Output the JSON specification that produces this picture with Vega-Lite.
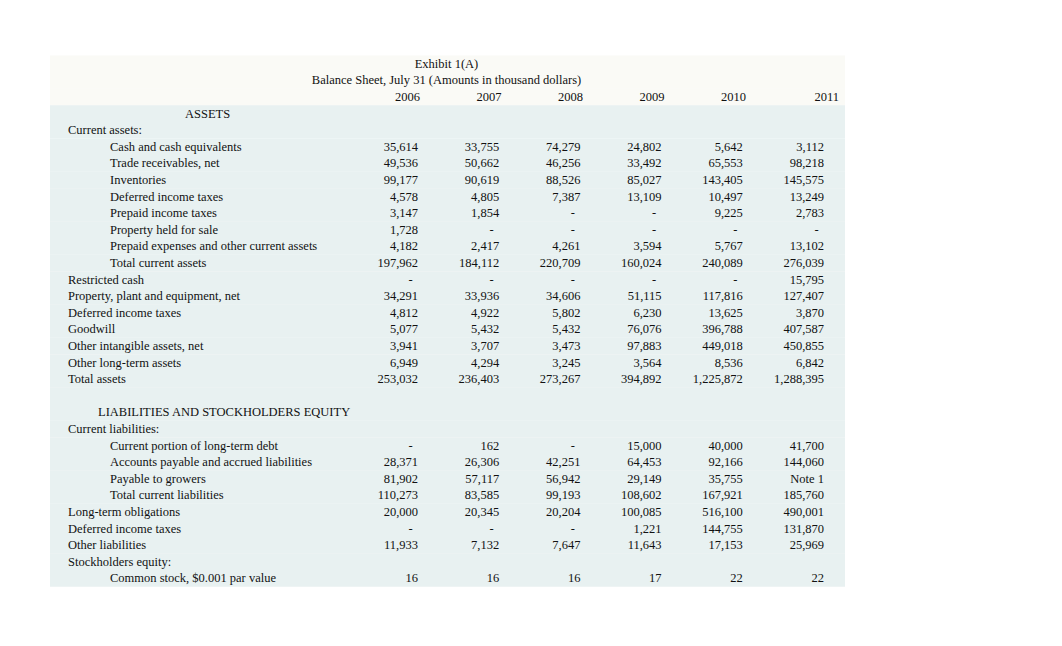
{
  "$schema": "https://vega.github.io/schema/vega-lite/v6.json",
  "width": 1062,
  "height": 646,
  "padding": 0,
  "autosize": {"type": "fit", "contains": "padding"},
  "background": "#ffffff",
  "config": {"view": {"stroke": null}},
  "datasets": {
    "rows": [
      {"line": 0, "role": "title", "title": "Exhibit 1(A)"},
      {"line": 1, "role": "title", "title": "Balance Sheet, July 31 (Amounts in thousand dollars)"},
      {"line": 2, "role": "header"},
      {"line": 3, "label": "ASSETS", "indent": 3},
      {"line": 4, "label": "Current assets:", "indent": 0},
      {"line": 5, "label": "Cash and cash equivalents", "indent": 2, "2006": "35,614", "2007": "33,755", "2008": "74,279", "2009": "24,802", "2010": "5,642", "2011": "3,112"},
      {"line": 6, "label": "Trade receivables, net", "indent": 2, "2006": "49,536", "2007": "50,662", "2008": "46,256", "2009": "33,492", "2010": "65,553", "2011": "98,218"},
      {"line": 7, "label": "Inventories", "indent": 2, "2006": "99,177", "2007": "90,619", "2008": "88,526", "2009": "85,027", "2010": "143,405", "2011": "145,575"},
      {"line": 8, "label": "Deferred income taxes", "indent": 2, "2006": "4,578", "2007": "4,805", "2008": "7,387", "2009": "13,109", "2010": "10,497", "2011": "13,249"},
      {"line": 9, "label": "Prepaid income taxes", "indent": 2, "2006": "3,147", "2007": "1,854", "2008": "-", "2009": "-", "2010": "9,225", "2011": "2,783"},
      {"line": 10, "label": "Property held for sale", "indent": 2, "2006": "1,728", "2007": "-", "2008": "-", "2009": "-", "2010": "-", "2011": "-"},
      {"line": 11, "label": "Prepaid expenses and other current assets", "indent": 2, "2006": "4,182", "2007": "2,417", "2008": "4,261", "2009": "3,594", "2010": "5,767", "2011": "13,102"},
      {"line": 12, "label": "Total current assets", "indent": 2, "2006": "197,962", "2007": "184,112", "2008": "220,709", "2009": "160,024", "2010": "240,089", "2011": "276,039"},
      {"line": 13, "label": "Restricted cash", "indent": 0, "2006": "-", "2007": "-", "2008": "-", "2009": "-", "2010": "-", "2011": "15,795"},
      {"line": 14, "label": "Property, plant and equipment, net", "indent": 0, "2006": "34,291", "2007": "33,936", "2008": "34,606", "2009": "51,115", "2010": "117,816", "2011": "127,407"},
      {"line": 15, "label": "Deferred income taxes", "indent": 0, "2006": "4,812", "2007": "4,922", "2008": "5,802", "2009": "6,230", "2010": "13,625", "2011": "3,870"},
      {"line": 16, "label": "Goodwill", "indent": 0, "2006": "5,077", "2007": "5,432", "2008": "5,432", "2009": "76,076", "2010": "396,788", "2011": "407,587"},
      {"line": 17, "label": "Other intangible assets, net", "indent": 0, "2006": "3,941", "2007": "3,707", "2008": "3,473", "2009": "97,883", "2010": "449,018", "2011": "450,855"},
      {"line": 18, "label": "Other long-term assets", "indent": 0, "2006": "6,949", "2007": "4,294", "2008": "3,245", "2009": "3,564", "2010": "8,536", "2011": "6,842"},
      {"line": 19, "label": "Total assets", "indent": 0, "2006": "253,032", "2007": "236,403", "2008": "273,267", "2009": "394,892", "2010": "1,225,872", "2011": "1,288,395"},
      {"line": 20},
      {"line": 21, "label": "LIABILITIES AND STOCKHOLDERS EQUITY", "indent": 1},
      {"line": 22, "label": "Current liabilities:", "indent": 0},
      {"line": 23, "label": "Current portion of long-term debt", "indent": 2, "2006": "-", "2007": "162", "2008": "-", "2009": "15,000", "2010": "40,000", "2011": "41,700"},
      {"line": 24, "label": "Accounts payable and accrued liabilities", "indent": 2, "2006": "28,371", "2007": "26,306", "2008": "42,251", "2009": "64,453", "2010": "92,166", "2011": "144,060"},
      {"line": 25, "label": "Payable to growers", "indent": 2, "2006": "81,902", "2007": "57,117", "2008": "56,942", "2009": "29,149", "2010": "35,755", "2011": "Note 1"},
      {"line": 26, "label": "Total current liabilities", "indent": 2, "2006": "110,273", "2007": "83,585", "2008": "99,193", "2009": "108,602", "2010": "167,921", "2011": "185,760"},
      {"line": 27, "label": "Long-term obligations", "indent": 0, "2006": "20,000", "2007": "20,345", "2008": "20,204", "2009": "100,085", "2010": "516,100", "2011": "490,001"},
      {"line": 28, "label": "Deferred income taxes", "indent": 0, "2006": "-", "2007": "-", "2008": "-", "2009": "1,221", "2010": "144,755", "2011": "131,870"},
      {"line": 29, "label": "Other liabilities", "indent": 0, "2006": "11,933", "2007": "7,132", "2008": "7,647", "2009": "11,643", "2010": "17,153", "2011": "25,969"},
      {"line": 30, "label": "Stockholders equity:", "indent": 0},
      {"line": 31, "label": "Common stock, $0.001 par value", "indent": 2, "2006": "16", "2007": "16", "2008": "16", "2009": "17", "2010": "22", "2011": "22"}
    ],
    "years": [
      {"year": 2006, "line": 2},
      {"year": 2007, "line": 2},
      {"year": 2008, "line": 2},
      {"year": 2009, "line": 2},
      {"year": 2010, "line": 2},
      {"year": 2011, "line": 2}
    ]
  },
  "resolve": {"scale": {"x": "independent"}},
  "layer": [
    {
      "data": {"name": "rows"},
      "mark": {"type": "rect", "yOffset": -8.4, "y2Offset": 8.4, "strokeWidth": 0},
      "encoding": {
        "x": {"datum": 0, "type": "quantitative", "axis": null, "scale": {"domain": [0, 1], "range": [50, 845]}},
        "x2": {"datum": 1},
        "y": {"field": "line", "type": "quantitative", "axis": null, "scale": {"domain": [0, 31], "range": [63.8, 578.3]}},
        "y2": {"field": "line"},
        "color": {"condition": {"test": "datum.line >= 3", "value": "#e8f1f1"}, "value": "#fafaf6"}
      }
    },
    {
      "data": {"name": "rows"},
      "transform": [{"filter": "datum.role === 'title'"}],
      "mark": {"type": "text", "align": "center", "baseline": "middle", "font": "Liberation Serif", "fontSize": 12.5, "color": "#111111"},
      "encoding": {
        "x": {"field": "role", "type": "nominal", "axis": null, "scale": {"range": [446.5, 446.5]}},
        "y": {"field": "line", "type": "quantitative", "axis": null, "scale": {"domain": [0, 31], "range": [63.8, 578.3]}},
        "text": {"field": "title"}
      }
    },
    {
      "data": {"name": "years"},
      "mark": {"type": "text", "align": "right", "baseline": "middle", "font": "Liberation Serif", "fontSize": 12.5, "color": "#111111"},
      "encoding": {
        "x": {"field": "year", "type": "quantitative", "axis": null, "scale": {"domain": [2006, 2010, 2011], "range": [420, 746, 839]}},
        "y": {"field": "line", "type": "quantitative", "axis": null, "scale": {"domain": [0, 31], "range": [63.8, 578.3]}},
        "text": {"field": "year", "type": "nominal"}
      }
    },
    {
      "data": {"name": "rows"},
      "transform": [{"filter": "isValid(datum.label)"}],
      "mark": {"type": "text", "align": "left", "baseline": "middle", "font": "Liberation Serif", "fontSize": 12.5, "color": "#111111"},
      "encoding": {
        "x": {"field": "indent", "type": "quantitative", "axis": null, "scale": {"domain": [0, 1, 2, 3], "range": [68, 98, 110, 185]}},
        "y": {"field": "line", "type": "quantitative", "axis": null, "scale": {"domain": [0, 31], "range": [63.8, 578.3]}},
        "text": {"field": "label"}
      }
    },
    {
      "data": {"name": "rows"},
      "transform": [
        {"fold": ["2006", "2007", "2008", "2009", "2010", "2011"], "as": ["year", "amount"]},
        {"filter": "isValid(datum.amount) && datum.amount !== '-'"}
      ],
      "mark": {"type": "text", "align": "right", "baseline": "middle", "font": "Liberation Serif", "fontSize": 12.5, "color": "#111111"},
      "encoding": {
        "x": {"field": "year", "type": "nominal", "axis": null, "scale": {"domain": ["2006", "2007", "2008", "2009", "2010", "2011"], "range": [418, 824], "padding": 0}},
        "y": {"field": "line", "type": "quantitative", "axis": null, "scale": {"domain": [0, 31], "range": [63.8, 578.3]}},
        "text": {"field": "amount"}
      }
    },
    {
      "data": {"name": "rows"},
      "transform": [
        {"fold": ["2006", "2007", "2008", "2009", "2010", "2011"], "as": ["year", "amount"]},
        {"filter": "datum.amount === '-'"}
      ],
      "mark": {"type": "text", "align": "center", "baseline": "middle", "dx": -7.5, "font": "Liberation Serif", "fontSize": 12.5, "color": "#111111"},
      "encoding": {
        "x": {"field": "year", "type": "nominal", "axis": null, "scale": {"domain": ["2006", "2007", "2008", "2009", "2010", "2011"], "range": [418, 824], "padding": 0}},
        "y": {"field": "line", "type": "quantitative", "axis": null, "scale": {"domain": [0, 31], "range": [63.8, 578.3]}},
        "text": {"field": "amount"}
      }
    }
  ]
}
